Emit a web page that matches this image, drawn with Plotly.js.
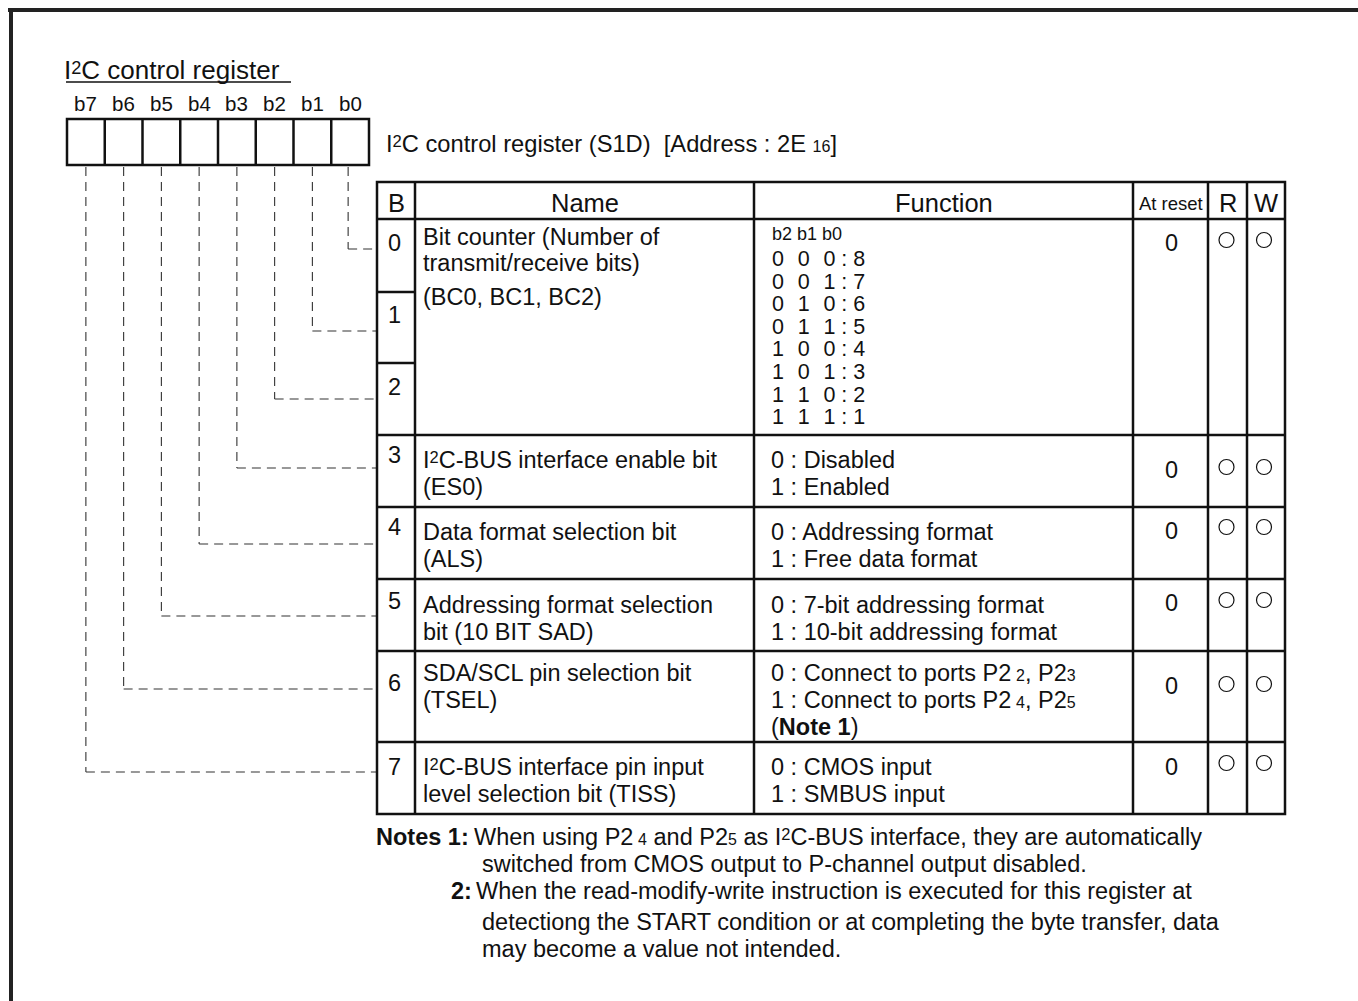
<!DOCTYPE html>
<html><head><meta charset="utf-8">
<script src="https://cdn.plot.ly/plotly-3.0.1.min.js"></script>
<style>html,body{margin:0;padding:0;background:#fff;overflow:hidden;}#chart{width:1358px;height:1001px;}</style>
</head><body><div id="chart"></div>
<script>
// ---------------- DATA ----------------
const SUP2 = '<span style="font-size:70%;baseline-shift:0.3em">2</span>';
function small(d) { return '<span style="font-size:68%">' + d + '</span>'; }
const registerTitle = "I" + SUP2 + "C control register";
const registerCaption = "I" + SUP2 + "C control register (S1D)\u00a0\u00a0[Address : 2E " + small("16") + "]";
const bitLabels = ["b7", "b6", "b5", "b4", "b3", "b2", "b1", "b0"];
const headers = ["B", "Name", "Function", "At reset", "R", "W"];
const bitNumbers = ["0", "1", "2", "3", "4", "5", "6", "7"];
const rowNames = [
  ["Bit counter (Number of", "transmit/receive bits)", "(BC0, BC1, BC2)"],
  ["I" + SUP2 + "C-BUS interface enable bit", "(ES0)"],
  ["Data format selection bit", "(ALS)"],
  ["Addressing format selection", "bit (10 BIT SAD)"],
  ["SDA/SCL pin selection bit", "(TSEL)"],
  ["I" + SUP2 + "C-BUS interface pin input", "level selection bit (TISS)"]
];
const counterHeader = "b2 b1 b0";
const counterB2 = ["0", "0", "0", "0", "1", "1", "1", "1"];
const counterB1 = ["0", "0", "1", "1", "0", "0", "1", "1"];
const counterB0 = ["0", "1", "0", "1", "0", "1", "0", "1"];
const counterValue = ["8", "7", "6", "5", "4", "3", "2", "1"];
const rowFunctions = [
  [],
  ["0 : Disabled", "1 : Enabled"],
  ["0 : Addressing format", "1 : Free data format"],
  ["0 : 7-bit addressing format", "1 : 10-bit addressing format"],
  ["0 : Connect to ports P2\u2009" + small("2") + ", P2" + small("3"),
   "1 : Connect to ports P2\u2009" + small("4") + ", P2" + small("5"),
   "(<b>Note 1</b>)"],
  ["0 : CMOS input", "1 : SMBUS input"]
];
const resetValues = ["0", "0", "0", "0", "0", "0"];
const readFlags = [true, true, true, true, true, true];
const writeFlags = [true, true, true, true, true, true];
const noteLabels = ["Notes 1:", "2:"];
const noteLines = [
  ["When using P2\u2009" + small("4") + " and P2" + small("5") + " as I" + SUP2 + "C-BUS interface, they are automatically",
   "switched from CMOS output to P-channel output disabled."],
  ["When the read-modify-write instruction is executed for this register at",
   "detectiong the START condition or at completing the byte transfer, data",
   "may become a value not intended."]
];

// ---------------- LAYOUT GEOMETRY ----------------
const FONT = "'Liberation Sans', Arial, Helvetica, sans-serif";
const INK = "#111";
const REG = {x0: 67, x1: 369, y0: 119, y1: 165};
const COLS = [377, 415, 754, 1133, 1208, 1247, 1285];
const TOP = 182;
const ROW_EDGES = [219, 435, 507, 579, 651, 742, 814];
const B_SPLITS = [292, 363];
const CONNECT_Y = [249, 331, 399, 468, 544, 616, 689, 772];
const BITNUM_Y = [243, 315, 387, 455, 527, 601, 683, 767];
const TEXT_START = [237, 460, 532, 605, 673, 767];
const ROW0_NAME_OFF = [0, 26, 60];
const LINE_STEP = 27;
const RESET_Y = [243, 470, 531, 603, 686, 767];
const MARK_Y = [240, 467, 527, 600, 684, 763];
const TABLE_FS = 23.5, NOTE_FS = 23.5, HEAD_FS = 25.5, COUNTER_FS = 21.5;
const GAP = "\u00a0\u00a0\u200a";

const shapes = [];
const ann = [];
function line(x0, y0, x1, y1, w, dash, color) {
  shapes.push({type: "line", xref: "x", yref: "y", x0, y0, x1, y1,
    line: {color: color || INK, width: w, dash: dash || "solid"}});
}
function text(t, x, y, size, anchor) {
  ann.push({text: t, x, y, xref: "x", yref: "y", showarrow: false,
    xanchor: anchor || "left", yanchor: "middle", borderpad: 0, borderwidth: 0,
    font: {family: FONT, size, color: INK}});
}

// outer frame
line(8, 10, 1358, 10, 4, null, "#222");
line(11, 8, 11, 1001, 4, null, "#222");

// title
text(registerTitle, 64, 70, 26, "left");
line(66, 82, 291, 82, 1.4);

// register boxes
const bw = (REG.x1 - REG.x0) / bitLabels.length;
shapes.push({type: "rect", xref: "x", yref: "y", x0: REG.x0, y0: REG.y0, x1: REG.x1, y1: REG.y1,
  line: {color: INK, width: 2.5}});
bitLabels.forEach((b, i) => {
  const cx = REG.x0 + (i + 0.5) * bw;
  if (i > 0) line(REG.x0 + i * bw, REG.y0, REG.x0 + i * bw, REG.y1, 2.5);
  text(b, cx, 103, 20.5, "center");
  const bit = bitLabels.length - 1 - i;
  const cy = CONNECT_Y[bit];
  const lx = cx - (bit === 0 ? 2 : 0);
  line(lx, REG.y1 + 2, lx, cy, 1.1, "9px,6px", "#333");
  line(lx, cy, COLS[0], cy, 1.1, "9px,6px", "#333");
});
text(registerCaption, 386, 144, 23.7, "left");

// table grid
shapes.push({type: "rect", xref: "x", yref: "y", x0: COLS[0], y0: TOP, x1: COLS[6], y1: ROW_EDGES[6],
  line: {color: INK, width: 2.5}});
COLS.slice(1, 6).forEach(x => line(x, TOP, x, ROW_EDGES[6], 2.5));
ROW_EDGES.slice(0, 6).forEach(y => line(COLS[0], y, COLS[6], y, 2.5));
B_SPLITS.forEach(y => line(COLS[0], y, COLS[1], y, 2.5));

// headers
const headSizes = [HEAD_FS, HEAD_FS, HEAD_FS, 18.5, HEAD_FS, HEAD_FS];
headers.forEach((h, i) => text(h, (COLS[i] + COLS[i + 1]) / 2, 203, headSizes[i], "center"));

// bit numbers
bitNumbers.forEach((n, i) => text(n, 394, BITNUM_Y[i], TABLE_FS, "center"));

// names
rowNames.forEach((lines, r) => {
  lines.forEach((l, k) => {
    const y = r === 0 ? TEXT_START[0] + ROW0_NAME_OFF[k] : TEXT_START[r] + k * LINE_STEP;
    text(l, 423, y, TABLE_FS, "left");
  });
});

// functions
text(counterHeader, 772, 234, 18, "left");
counterValue.forEach((v, k) => {
  const row = counterB2[k] + GAP + counterB1[k] + GAP + counterB0[k] + "\u00a0:\u00a0" + v;
  text(row, 772, 259 + k * 22.6, COUNTER_FS, "left");
});
rowFunctions.forEach((lines, r) => {
  lines.forEach((l, k) => text(l, 771, TEXT_START[r] + k * LINE_STEP, TABLE_FS, "left"));
});

// reset values
resetValues.forEach((v, r) => text(v, (COLS[3] + COLS[4]) / 2 + 1, RESET_Y[r], TABLE_FS, "center"));

// notes
text("<b>" + noteLabels[0] + "</b>", 376, 837, NOTE_FS, "left");
text(noteLines[0][0], 474, 837, NOTE_FS, "left");
text(noteLines[0][1], 482, 864, NOTE_FS, "left");
text("<b>" + noteLabels[1] + "</b>", 451, 891, NOTE_FS, "left");
text(noteLines[1][0], 476, 891, NOTE_FS, "left");
text(noteLines[1][1], 482, 922, NOTE_FS, "left");
text(noteLines[1][2], 482, 949, NOTE_FS, "left");

// R / W marks
const mx = [], my = [];
readFlags.forEach((f, r) => { if (f) { mx.push(COLS[4] + 18.5); my.push(MARK_Y[r]); } });
writeFlags.forEach((f, r) => { if (f) { mx.push(COLS[5] + 17); my.push(MARK_Y[r]); } });

const data = [{
  type: "scatter", mode: "markers", x: mx, y: my, hoverinfo: "skip",
  marker: {symbol: "circle-open", size: 15, color: INK, line: {width: 1.2, color: INK}}
}];

const layout = {
  width: 1358, height: 1001,
  margin: {l: 0, r: 0, t: 0, b: 0},
  paper_bgcolor: "#fff", plot_bgcolor: "#fff",
  showlegend: false,
  xaxis: {range: [0, 1358], visible: false, fixedrange: true},
  yaxis: {range: [1001, 0], visible: false, fixedrange: true},
  shapes: shapes,
  annotations: ann
};
Plotly.newPlot("chart", data, layout, {staticPlot: true, displayModeBar: false});
</script>
</body></html>
